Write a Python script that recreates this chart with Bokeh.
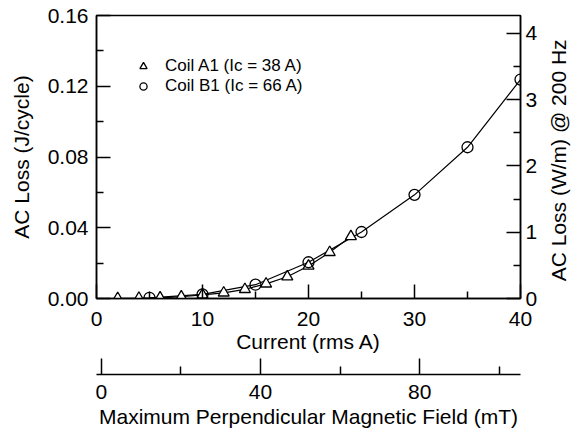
import math
from bokeh.plotting import figure
from bokeh.models import (LinearAxis, Range1d, FixedTicker, NumeralTickFormatter,
                          Legend, LegendItem)
from bokeh.embed import file_html
from bokeh.resources import INLINE

# ---- data ----
a1_current = [2, 4, 6, 8, 10, 12, 14, 16, 18, 20, 22, 24]
a1_loss = [0.0001, 0.0002, 0.0004, 0.0010, 0.0021, 0.0032, 0.0052, 0.0083,
           0.0123, 0.0184, 0.0261, 0.0351]
b1_current = [5, 10, 15, 20, 25, 30, 35, 40]
b1_loss = [0.0004, 0.0023, 0.0078, 0.0205, 0.0376, 0.0586, 0.0855, 0.1238]

x_ticks = [0, 10, 20, 30, 40]
x_minor = [5, 15, 25, 35]
y_ticks = [0.0, 0.04, 0.08, 0.12, 0.16]
y_minor = [0.02, 0.06, 0.10, 0.14]
r_ticks = [0, 1, 2, 3, 4]
r_minor = [0.5, 1.5, 2.5, 3.5]
f_ticks = [0, 40, 80]
f_minor = [20, 60, 100]

labels = ["Coil A1 (Ic = 38 A)", "Coil B1 (Ic = 66 A)"]
right_title = "AC Loss (W/m) @ 200 Hz"

FONT = "Liberation Sans"
TICK_FS = "21px"
TITLE_FS = "21px"

p = figure(width=584, height=430, output_backend="svg", toolbar_location=None,
           x_range=Range1d(0, 40), y_range=Range1d(0, 0.16),
           min_border_left=96, min_border_right=62, min_border_top=15,
           min_border_bottom=131)
p.extra_y_ranges = {"w": Range1d(0, 4.267)}
p.extra_x_ranges = {"field": Range1d(-1.2, 105.3)}

p.grid.visible = False
p.outline_line_color = "black"
p.outline_line_width = 1.5
p.background_fill_color = "white"
p.border_fill_color = "white"


def style(ax, ticks, minor, fmt):
    ax.ticker = FixedTicker(ticks=ticks, minor_ticks=minor)
    ax.formatter = NumeralTickFormatter(format=fmt)
    ax.major_tick_in = 14
    ax.major_tick_out = 0
    ax.minor_tick_in = 7
    ax.minor_tick_out = 0
    ax.major_tick_line_width = 1.5
    ax.minor_tick_line_width = 1.5
    ax.axis_line_width = 1.5
    ax.major_label_text_font = FONT
    ax.major_label_text_font_size = TICK_FS
    ax.major_label_text_color = "black"
    ax.axis_label_text_font = FONT
    ax.axis_label_text_font_size = TITLE_FS
    ax.axis_label_text_font_style = "normal"
    ax.axis_label_text_color = "black"


xa = p.xaxis[0]
style(xa, x_ticks, x_minor, "0")
xa.axis_label = "Current (rms A)"
xa.major_label_standoff = 13
xa.axis_label_standoff = 1

ya = p.yaxis[0]
style(ya, y_ticks, y_minor, "0.00")
ya.axis_label = "AC Loss (J/cycle)"
ya.major_label_standoff = 8
ya.axis_label_standoff = 12

ra = LinearAxis(y_range_name="w")
style(ra, r_ticks, r_minor, "0")
ra.major_label_standoff = 5
p.add_layout(ra, "right")

# right-hand title: an axis with a single hidden tick whose label is the title,
# turned to read from bottom to top
rt = LinearAxis(y_range_name="w")
rt.ticker = FixedTicker(ticks=[0.26], minor_ticks=[])
rt.major_label_overrides = {0.26: right_title}
rt.major_label_orientation = math.pi / 2
rt.axis_line_alpha = 0
rt.major_tick_line_alpha = 0
rt.major_tick_in = 0
rt.major_tick_out = 0
rt.minor_tick_in = 0
rt.minor_tick_out = 0
rt.major_label_standoff = 18
rt.major_label_text_font = FONT
rt.major_label_text_font_size = TITLE_FS
rt.major_label_text_color = "black"
p.add_layout(rt, "right")

# invisible spacer between the two bottom axes
spacer = LinearAxis(x_range_name="field")
spacer.ticker = FixedTicker(ticks=[50], minor_ticks=[])
spacer.major_label_overrides = {50: " "}
spacer.axis_line_alpha = 0
spacer.major_tick_line_alpha = 0
spacer.major_tick_in = 0
spacer.major_tick_out = 19
spacer.minor_tick_in = 0
spacer.minor_tick_out = 0
spacer.major_label_standoff = 0
spacer.major_label_text_font_size = "1px"
spacer.major_label_text_alpha = 0
p.add_layout(spacer, "below")

fa = LinearAxis(x_range_name="field")
style(fa, f_ticks, f_minor, "0")
fa.axis_label = "Maximum Perpendicular Magnetic Field (mT)"
fa.major_tick_in = 16
fa.minor_tick_in = 8
fa.major_label_standoff = 10
fa.axis_label_standoff = 3
p.add_layout(fa, "below")

# curves
p.line(a1_current, a1_loss, line_color="black", line_width=1.2)
p.line(b1_current, b1_loss, line_color="black", line_width=1.2)
ra_tri = p.scatter(a1_current, a1_loss, marker="triangle", size=11,
                   fill_color="white", line_color="black", line_width=1.3)
rb_cir = p.scatter(b1_current, b1_loss, marker="circle", size=11,
                   fill_color=None, line_color="black", line_width=1.3)

legend = Legend(items=[LegendItem(label=labels[0], renderers=[ra_tri]),
                       LegendItem(label=labels[1], renderers=[rb_cir])],
                location=(37, 202), padding=0, margin=0, spacing=0,
                glyph_width=20, glyph_height=18, label_height=18,
                label_standoff=12, border_line_alpha=0,
                background_fill_alpha=0, label_text_color="black",
                label_text_font=FONT, label_text_font_size="17px",
                label_text_line_height=1.0)
p.add_layout(legend, "center")

open("out.html", "w").write(file_html(p, INLINE))
